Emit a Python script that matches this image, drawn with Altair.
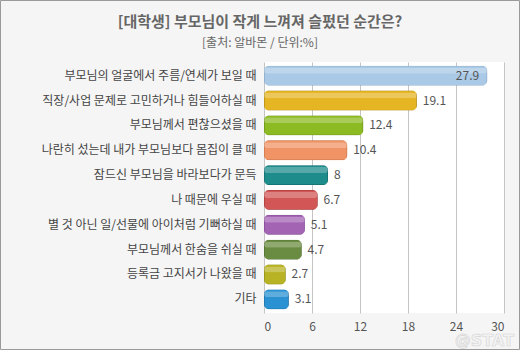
import altair as alt
import pandas as pd

categories = [
    "부모님의 얼굴에서 주름/연세가 보일 때",
    "직장/사업 문제로 고민하거나 힘들어하실 때",
    "부모님께서 편찮으셨을 때",
    "나란히 섰는데 내가 부모님보다 몸집이 클 때",
    "잠드신 부모님을 바라보다가 문득",
    "나 때문에 우실 때",
    "별 것 아닌 일/선물에 아이처럼 기뻐하실 때",
    "부모님께서 한숨을 쉬실 때",
    "등록금 고지서가 나왔을 때",
    "기타",
]
values = [27.9, 19.1, 12.4, 10.4, 8, 6.7, 5.1, 4.7, 2.7, 3.1]
fills = ["#a9c9e6", "#e6b524", "#8cba22", "#f09466", "#1f8c8c",
         "#d25656", "#a464b4", "#6a8c42", "#b8b324", "#2a92d2"]
strokes = ["#7d9cba", "#9c7c10", "#5e7e12", "#b8683e", "#0f5e5e",
           "#963232", "#74408a", "#46602a", "#828014", "#1a6494"]
x_ticks = [0, 6, 12, 18, 24, 30]
title_text = "[대학생] 부모님이 작게 느껴져 슬펐던 순간은?"
subtitle_text = "[출처: 알바몬 / 단위:%]"
watermark_text = "@STAT"

df = pd.DataFrame({"cat": categories, "val": values, "fill": fills, "stroke": strokes})

FONT = "Noto Sans CJK KR"

y_enc = alt.Y("cat:N", sort=categories,
              scale=alt.Scale(paddingInner=0.2, paddingOuter=0.15),
              axis=alt.Axis(title=None, ticks=False, domain=False, labelFont=FONT,
                            labelFontSize=12, labelColor="#444", labelPadding=8,
                            labelLimit=300))
x_enc = alt.X("val:Q", scale=alt.Scale(domain=[0, 30], nice=False),
              axis=alt.Axis(title=None, values=x_ticks, ticks=False, domain=False,
                            labelFont=FONT, labelFontSize=12, labelColor="#555",
                            labelPadding=8, gridColor="#c4c4c4", gridWidth=1))

base = alt.Chart(df)

bars = base.mark_bar(cornerRadius=5, strokeWidth=1).encode(
    x=x_enc, y=y_enc,
    fill=alt.Fill("fill:N", scale=None),
    stroke=alt.Stroke("stroke:N", scale=None),
)

gloss = base.mark_bar(cornerRadius=4, opacity=0.25, color="white", size=6, yOffset=-5).encode(
    x=alt.X("val:Q"), y=alt.Y("cat:N", sort=categories),
)

labels_out = base.transform_filter("datum.val < 25").mark_text(
    align="left", dx=6, font=FONT, fontSize=12, color="#555"
).encode(x="val:Q", y=alt.Y("cat:N", sort=categories), text="val:Q")

labels_in = base.transform_filter("datum.val >= 25").mark_text(
    align="right", dx=-8, font=FONT, fontSize=12, color="#555"
).encode(x="val:Q", y=alt.Y("cat:N", sort=categories), text="val:Q")

title = alt.Chart(pd.DataFrame({"t": [title_text]})).mark_text(
    font=FONT, fontSize=15, fontWeight="bold", color="#666", align="center", baseline="middle"
).encode(x=alt.value(-4), y=alt.value(-40), text="t:N")

subtitle = alt.Chart(pd.DataFrame({"t": [subtitle_text]})).mark_text(
    font=FONT, fontSize=12, color="#666", align="center", baseline="middle"
).encode(x=alt.value(-4), y=alt.value(-19), text="t:N")

border = alt.Chart(pd.DataFrame({"a": [0]})).mark_rect(
    fill=None, stroke="#9a9a9a", strokeWidth=1
).encode(x=alt.value(-263.5), x2=alt.value(255.5), y=alt.value(-61.5), y2=alt.value(287.5))

watermark = alt.Chart(pd.DataFrame({"t": [watermark_text]})).mark_text(
    font="DejaVu Sans", fontSize=16, fontWeight="bold", color="#f2f2f2",
    align="right", baseline="middle", stroke="#d4d4d4", strokeWidth=0.6
).encode(x=alt.value(250), y=alt.value(279), text="t:N")

chart = alt.layer(bars, gloss, labels_out, labels_in, title, subtitle, border, watermark).properties(
    width=240, height=251,
    autosize=alt.AutoSizeParams(type="none"),
    padding={"left": 264, "top": 62, "right": 16, "bottom": 37},
    background="#f5f5f5",
).configure_view(fill="white", stroke=None)

chart.save("out.html", embed_options={"renderer": "svg", "actions": False})
